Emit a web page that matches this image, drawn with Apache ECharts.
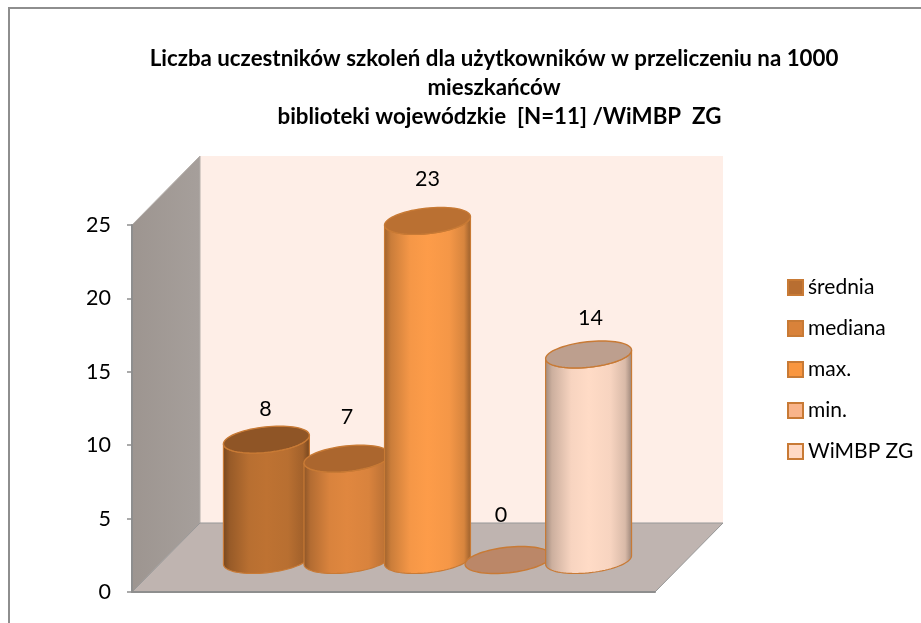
<!DOCTYPE html>
<html>
<head>
<meta charset="utf-8">
<style>html,body{margin:0;padding:0;background:#fff}#c{width:921px;height:623px}</style>
<script src="https://cdn.jsdelivr.net/npm/echarts@6/dist/echarts.min.js"></script>
</head>
<body>
<div id="c"></div>
<script>
const categories = [''];
const seriesNames = ['średnia', 'mediana', 'max.', 'min.', 'WiMBP ZG'];
const srednia = [8.2];
const mediana = [6.9];
const maks = [23.1];
const minimum = [0];
const wimbp = [14];
const valueTicks = [0, 5, 10, 15, 20, 25];
const titleLines = [
  'Liczba uczestników szkoleń dla użytkowników w przeliczeniu na 1000',
  'mieszkańców',
  '  biblioteki wojewódzkie  [N=11] /WiMBP  ZG'
];

const seriesValues = [srednia, mediana, maks, minimum, wimbp];
const baseColors = ['#BE7232', '#E0873F', '#FD9C49', '#F9B48A', '#FFDBC6'];
const topColors = ['#8F5526', '#AB662E', '#BA7032', '#BB8768', '#BD9F8E'];
const legendColors = ['#B86E31', '#D9823A', '#F9963F', '#F9B48A', '#FFD9C4'];
const borderColor = '#C87A35';
const labelFont = 'Lato, Carlito, Calibri, sans-serif';

const depth = 68;
const slotRatio = 0.154;
const radiusRatio = 0.078;
const ellipseDepth = 13.5;
const baseLift = 32;
const labelGaps = [17, 28, 28, 31, 23];
const labelShift = [-1, 0, 0, -7, 2];

function shade(hex, f) {
  const n = parseInt(hex.slice(1), 16);
  const c = [n >> 16, (n >> 8) & 255, n & 255].map(v => Math.round(v * f));
  return 'rgb(' + c.join(',') + ')';
}
function ellipsePoint(cx, cy, a, t) {
  return [cx + a * Math.cos(t) + ellipseDepth * Math.sin(t), cy - ellipseDepth * Math.sin(t)];
}
function ellipse(cx, cy, a) {
  const pts = [];
  for (let i = 0; i < 72; i++) pts.push(ellipsePoint(cx, cy, a, i / 72 * 2 * Math.PI));
  return pts;
}
function renderCylinder(idx) {
  return function (params, api) {
    const cs = params.coordSys;
    const band = cs.width;
    const p = api.coord([0, api.value(1)]);
    const zero = api.coord([0, 0]);
    const cx = p[0] + (idx - 2) * band * slotRatio + depth / 2;
    const yTop = p[1] - baseLift;
    const yBot = zero[1] - baseLift;
    const a = band * radiusRatio;
    const t0 = Math.atan2(ellipseDepth, a);
    const side = [];
    for (let i = 0; i <= 40; i++) side.push(ellipsePoint(cx, yTop, a, t0 - Math.PI * i / 40));
    for (let i = 0; i <= 40; i++) side.push(ellipsePoint(cx, yBot, a, t0 - Math.PI + Math.PI * i / 40));
    const base = baseColors[idx];
    const fill = {
      type: 'linear', x: 0, y: 0, x2: 1, y2: 0,
      colorStops: [
        { offset: 0, color: shade(base, 0.62) },
        { offset: 0.08, color: shade(base, 0.8) },
        { offset: 0.3, color: shade(base, 0.97) },
        { offset: 0.5, color: base },
        { offset: 0.75, color: shade(base, 0.97) },
        { offset: 0.92, color: shade(base, 0.85) },
        { offset: 1, color: shade(base, 0.6) }
      ]
    };
    const children = [];
    if (api.value(1) > 0) {
      children.push({
        type: 'polygon', shape: { points: side },
        style: { fill: fill, stroke: borderColor, lineWidth: 1.2 }
      });
    }
    children.push({
      type: 'polygon', shape: { points: ellipse(cx, yTop, a) },
      style: { fill: topColors[idx], stroke: borderColor, lineWidth: 1.4 }
    });
    children.push({
      type: 'text',
      style: {
        x: cx + labelShift[idx],
        y: yTop - ellipseDepth - labelGaps[idx],
        text: String(Math.round(api.value(1))),
        fill: '#000', font: '21.5px ' + labelFont,
        align: 'center', verticalAlign: 'middle'
      }
    });
    return { type: 'group', children: children };
  };
}
function renderWalls(params, api) {
  const cs = params.coordSys;
  const l = cs.x, r = cs.x + cs.width, t = cs.y, b = cs.y + cs.height;
  const d = depth;
  return {
    type: 'group',
    children: [
      { type: 'polygon', shape: { points: [[l + d, t - d - 1], [r + d, t - d - 1], [r + d, b - d - 1], [l + d, b - d - 1]] },
        style: { fill: '#FEEEE7' } },
      { type: 'polygon', shape: { points: [[l, t], [l + d, t - d - 1], [l + d, b - d - 1], [l, b]] },
        style: { fill: { type: 'linear', x: 0, y: 0, x2: 1, y2: 0, colorStops: [{ offset: 0, color: '#9D9590' }, { offset: 1, color: '#A69F9B' }] },
          stroke: '#B4AEAA', lineWidth: 1 } },
      { type: 'polygon', shape: { points: [[l, b], [l + d, b - d - 1], [r + d, b - d - 1], [r, b]] },
        style: { fill: '#BFB4B0', stroke: '#979797', lineWidth: 1 } }
    ]
  };
}

const series = [{
  name: 'walls', type: 'custom', coordinateSystem: 'cartesian2d', clip: false, z: 1,
  silent: true, data: [[0, 0]], renderItem: renderWalls, encode: { x: 0, y: 1 }
}];
seriesNames.forEach((name, i) => {
  series.push({
    name: name, type: 'custom', coordinateSystem: 'cartesian2d', clip: false, z: 10 + i,
    data: seriesValues[i].map((v, k) => [k, v]),
    renderItem: renderCylinder(i),
    encode: { x: 0, y: 1 },
    itemStyle: { color: legendColors[i], borderColor: borderColor, borderWidth: 1.2 }
  });
});

const chart = echarts.init(document.getElementById('c'), null, { renderer: 'canvas' });
chart.setOption({
  animation: false,
  backgroundColor: '#fff',
  title: {
    text: titleLines.join('\n'),
    left: 489, top: 39, textAlign: 'center',
    textStyle: { fontFamily: labelFont, fontWeight: 'bold', fontSize: 22.3, lineHeight: 29, color: '#000' }
  },
  legend: {
    orient: 'vertical', left: 787, top: 277, padding: 0,
    itemWidth: 15, itemHeight: 15, itemGap: 20, icon: 'rect',
    data: seriesNames,
    selectedMode: false,
    textStyle: { fontFamily: labelFont, fontSize: 21, color: '#000' }
  },
  grid: { left: 132, top: 225, width: 523, height: 367, containLabel: false },
  xAxis: {
    type: 'category', data: categories, z: 5,
    axisLine: { show: true, lineStyle: { color: '#8E8E8E', width: 2 } },
    axisTick: { show: false }, axisLabel: { show: false }, splitLine: { show: false }
  },
  yAxis: {
    type: 'value', min: valueTicks[0], max: valueTicks[valueTicks.length - 1], interval: valueTicks[1] - valueTicks[0], z: 5,
    axisLine: { show: true, lineStyle: { color: '#8E8E8E', width: 2 } },
    axisTick: { show: true, length: 5, lineStyle: { color: '#8E8E8E', width: 1.5 } },
    axisLabel: { fontFamily: labelFont, fontSize: 21.5, color: '#000', margin: 21, padding: [6, 0, 0, 0] },
    splitLine: { show: false }
  },
  graphic: [{
    type: 'rect', shape: { x: 9, y: 8, width: 1000, height: 1000 }, silent: true, z: 100,
    style: { fill: 'none', stroke: '#8E8E8E', lineWidth: 2 }
  }],
  series: series
});
</script>
</body>
</html>
